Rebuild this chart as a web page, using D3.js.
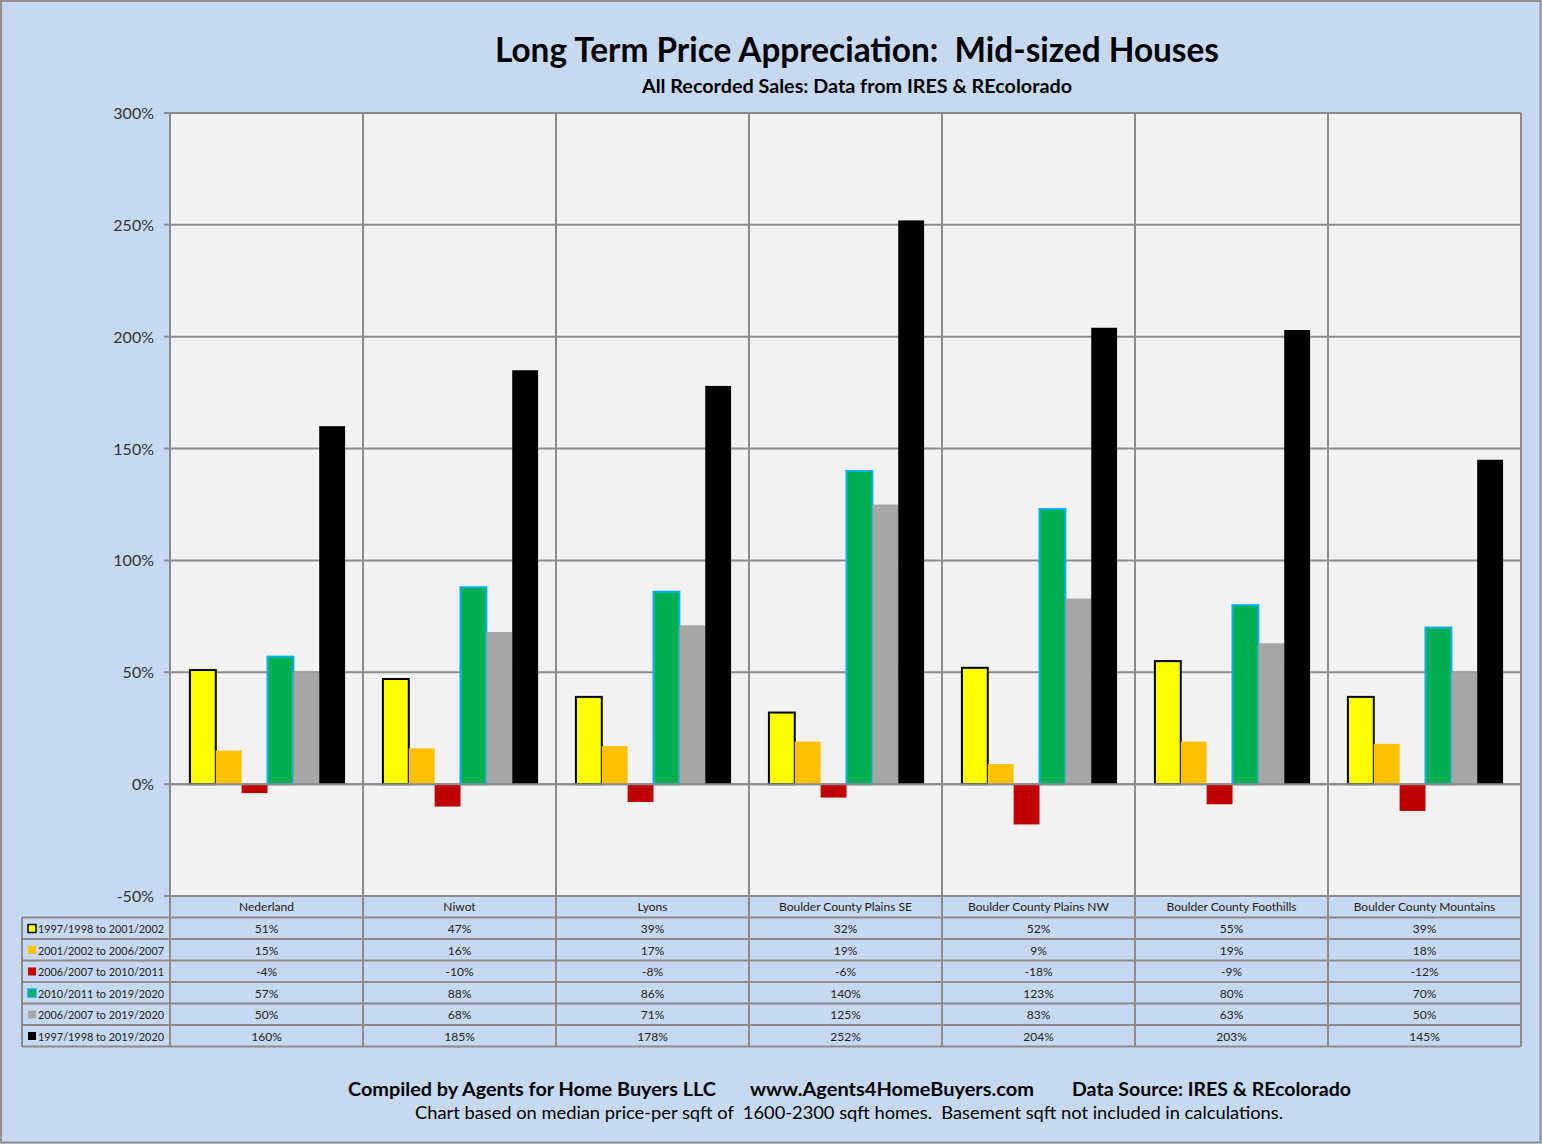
<!DOCTYPE html>
<html>
<head>
<meta charset="utf-8">
<script src="https://cdn.jsdelivr.net/npm/d3@7"></script>
<style>
  body { margin: 0; background: #c6d9f1; }
  svg { display: block; font-family: Lato, "Open Sans", sans-serif; }
</style>
</head>
<body>
<svg id="chart"></svg>
<script>
const width = 1542;
const height = 1144;

const categories = ["Nederland", "Niwot", "Lyons", "Boulder County Plains SE",
  "Boulder County Plains NW", "Boulder County Foothills", "Boulder County Mountains"];

const seriesNames = ["1997/1998 to 2001/2002", "2001/2002 to 2006/2007", "2006/2007 to 2010/2011",
  "2010/2011 to 2019/2020", "2006/2007 to 2019/2020", "1997/1998 to 2019/2020"];

const seriesFill = ["#ffff00", "#ffc000", "#c00000", "#00b050", "#a6a6a6", "#000000"];
const seriesStroke = ["#000000", null, null, "#00b0f0", null, null];

const s1 = [51, 47, 39, 32, 52, 55, 39];
const s2 = [15, 16, 17, 19, 9, 19, 18];
const s3 = [-4, -10, -8, -6, -18, -9, -12];
const s4 = [57, 88, 86, 140, 123, 80, 70];
const s5 = [50, 68, 71, 125, 83, 63, 50];
const s6 = [160, 185, 178, 252, 204, 203, 145];
const seriesValues = [s1, s2, s3, s4, s5, s6];

const yTicks = [-50, 0, 50, 100, 150, 200, 250, 300];

const footerParts = ["Compiled by Agents for Home Buyers LLC", "www.Agents4HomeBuyers.com",
  "Data Source: IRES & REcolorado"];

const plot = { left: 170, right: 1521, top: 113, bottom: 896 };
const tableLeft = 22;
const rowH = 21.5;

const svg = d3.select("#chart").attr("width", width).attr("height", height);

svg.append("rect")
  .attr("x", 1).attr("y", 1).attr("width", width - 2.5).attr("height", height - 2.5)
  .attr("fill", "#c6d9f1").attr("stroke", "#8f8f8f").attr("stroke-width", 2);

const x0 = d3.scaleBand().domain(categories).range([plot.left, plot.right]);
const gap = x0.bandwidth() * 0.196;
const x1 = d3.scaleBand().domain(d3.range(seriesNames.length))
  .range([gap / 2 + 1, x0.bandwidth() - gap / 2 + 1]);
const y = d3.scaleLinear().domain([-50, 300]).range([plot.bottom, plot.top]);

svg.append("rect")
  .attr("x", plot.left).attr("y", plot.top)
  .attr("width", plot.right - plot.left).attr("height", plot.bottom - plot.top)
  .attr("fill", "#f2f2f2");

// horizontal grid
svg.append("g").selectAll("line").data(yTicks).join("line")
  .attr("x1", plot.left - 6).attr("x2", plot.right)
  .attr("y1", d => y(d)).attr("y2", d => y(d))
  .attr("stroke", "#8c8c8c").attr("stroke-width", 2);

svg.append("g").selectAll("text").data(yTicks).join("text")
  .attr("x", plot.left - 16).attr("y", d => y(d) + 6)
  .attr("text-anchor", "end").attr("font-size", 16).attr("fill", "#333")
  .text(d => d + "%");

// bars
const groups = svg.append("g").selectAll("g").data(categories).join("g")
  .attr("transform", d => `translate(${x0(d)},0)`);

groups.selectAll("rect")
  .data((c, ci) => seriesValues.map((vals, si) => ({ si, v: vals[ci] })))
  .join("rect")
  .attr("x", d => x1(d.si))
  .attr("width", x1.bandwidth())
  .attr("y", d => y(Math.max(0, d.v)))
  .attr("height", d => Math.abs(y(d.v) - y(0)))
  .attr("fill", d => seriesFill[d.si])
  .attr("stroke", d => seriesStroke[d.si] || "none")
  .attr("stroke-width", 2);

// zero line on top of the bars
svg.append("line")
  .attr("x1", plot.left).attr("x2", plot.right)
  .attr("y1", y(0)).attr("y2", y(0))
  .attr("stroke", "#8c8c8c").attr("stroke-width", 2);

// data table
const tableBottom = plot.bottom + rowH * (seriesNames.length + 1);
const rowY = i => plot.bottom + rowH * i;

const vlines = categories.map(c => x0(c)).concat([plot.right]);
svg.append("g").selectAll("line").data(vlines).join("line")
  .attr("x1", d => d).attr("x2", d => d)
  .attr("y1", plot.top).attr("y2", tableBottom)
  .attr("stroke", "#8c8c8c").attr("stroke-width", 2);

const hlines = d3.range(1, seriesNames.length + 2);
svg.append("g").selectAll("line").data(hlines).join("line")
  .attr("x1", tableLeft).attr("x2", plot.right)
  .attr("y1", d => rowY(d)).attr("y2", d => rowY(d))
  .attr("stroke", "#8c8c8c").attr("stroke-width", 2);

svg.append("line")
  .attr("x1", tableLeft).attr("x2", tableLeft)
  .attr("y1", rowY(1)).attr("y2", tableBottom)
  .attr("stroke", "#8c8c8c").attr("stroke-width", 2);

svg.append("g").selectAll("text").data(categories).join("text")
  .attr("x", d => x0(d) + x0.bandwidth() / 2).attr("y", rowY(0) + 15)
  .attr("text-anchor", "middle").attr("font-size", 12).attr("fill", "#222")
  .text(d => d);

const legendRows = svg.append("g").selectAll("g").data(seriesNames).join("g")
  .attr("transform", (d, i) => `translate(0,${rowY(i + 1)})`);

legendRows.append("rect")
  .attr("x", 28).attr("y", 7).attr("width", 8).attr("height", 8)
  .attr("fill", (d, i) => seriesFill[i])
  .attr("stroke", (d, i) => seriesStroke[i] || "none")
  .attr("stroke-width", 1.5);

legendRows.append("text")
  .attr("x", 38).attr("y", 15.5).attr("font-size", 12).attr("fill", "#222")
  .attr("textLength", 126).attr("lengthAdjust", "spacingAndGlyphs")
  .text(d => d);

legendRows.selectAll("text.val")
  .data((d, i) => seriesValues[i].map((v, ci) => ({ v, c: categories[ci] })))
  .join("text").attr("class", "val")
  .attr("x", d => x0(d.c) + x0.bandwidth() / 2).attr("y", 15.5)
  .attr("text-anchor", "middle").attr("font-size", 12).attr("fill", "#222")
  .text(d => d.v + "%");

// titles
svg.append("text")
  .attr("x", 857).attr("y", 62).attr("text-anchor", "middle")
  .attr("font-size", 33.5).attr("font-weight", "bold").attr("fill", "#000")
  .attr("xml:space", "preserve")
  .attr("textLength", 724).attr("lengthAdjust", "spacingAndGlyphs")
  .text("Long Term Price Appreciation:  Mid-sized Houses");

svg.append("text")
  .attr("x", 857).attr("y", 93).attr("text-anchor", "middle")
  .attr("font-size", 19).attr("font-weight", "bold").attr("fill", "#000")
  .attr("textLength", 430).attr("lengthAdjust", "spacingAndGlyphs")
  .text("All Recorded Sales: Data from IRES & REcolorado");

const footerX = [348, 750, 1072];
const footerW = [368, 284, 279];
svg.append("g").selectAll("text").data(footerParts).join("text")
  .attr("x", (d, i) => footerX[i]).attr("y", 1096)
  .attr("font-size", 19.5).attr("font-weight", "bold").attr("fill", "#000")
  .attr("textLength", (d, i) => footerW[i]).attr("lengthAdjust", "spacingAndGlyphs")
  .text(d => d);

svg.append("text")
  .attr("x", 415).attr("y", 1119)
  .attr("font-size", 17.5).attr("fill", "#000")
  .attr("xml:space", "preserve")
  .attr("textLength", 868).attr("lengthAdjust", "spacingAndGlyphs")
  .text("Chart based on median price-per sqft of  1600-2300 sqft homes.  Basement sqft not included in calculations.");
</script>
</body>
</html>
